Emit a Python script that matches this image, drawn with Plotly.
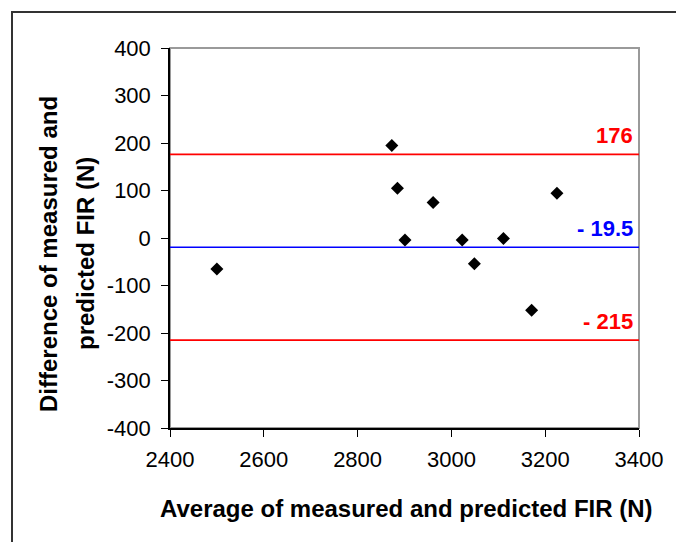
import plotly.graph_objects as go

# Data
avg_fir = [2500, 2873, 2885, 2961, 2901, 3023, 3111, 3049, 3225, 3171]
diff_fir = [-65, 195, 105, 75, -4, -4, -1, -54, 94, -152]

mean_diff = -19.5
upper_loa = 176
lower_loa = -215
ref_labels = ["176", "- 19.5", "- 215"]
ref_values = [upper_loa, mean_diff, lower_loa]
ref_colors = ["#FF0000", "#0000FF", "#FF0000"]

x_range = [2400, 3400]
y_range = [-400, 400]
x_ticks = [2400, 2600, 2800, 3000, 3200, 3400]
y_ticks = [400, 300, 200, 100, 0, -100, -200, -300, -400]
y_tick_text = ["400", "300", "200", "100", "0", "-100", "-200", "-300", "-400"]

x_title = "Average of measured and predicted FIR (N)"
y_title_lines = ["Difference of measured and", "predicted FIR (N)"]

FONT = "Liberation Sans, Arial, sans-serif"

W, H = 676, 542
ml, mr, mt, mb = 170, 37, 48, 114
pw, ph = W - ml - mr, H - mt - mb

def px_x(p):
    return (p - ml) / pw

def px_y(p):
    return (H - mb - p) / ph

fig = go.Figure()

for val, col in zip(ref_values, ref_colors):
    fig.add_trace(go.Scatter(
        x=x_range, y=[val, val], mode="lines",
        line=dict(color=col, width=1.6), hoverinfo="skip", showlegend=False,
    ))

fig.add_trace(go.Scatter(
    x=avg_fir, y=diff_fir, mode="markers",
    marker=dict(symbol="diamond", size=10, color="black"),
    showlegend=False,
))

annotations = []
for lab, val, col in zip(ref_labels, ref_values, ref_colors):
    annotations.append(dict(
        text="<b>%s</b>" % lab, xref="paper", yref="y", x=1, y=val,
        xanchor="right", yanchor="middle", xshift=-4, yshift=19,
        showarrow=False, font=dict(family=FONT, size=22, color=col),
    ))

annotations.append(dict(
    text="<b>%s</b>" % x_title, xref="paper", yref="paper",
    x=px_x(406), y=px_y(508), xanchor="center", yanchor="middle",
    showarrow=False, font=dict(family=FONT, size=24, color="black"),
))
for line, cx in zip(y_title_lines, [48, 85]):
    annotations.append(dict(
        text="<b>%s</b>" % line, xref="paper", yref="paper",
        x=px_x(cx), y=px_y(254), xanchor="center", yanchor="middle",
        textangle=-90, showarrow=False,
        font=dict(family=FONT, size=24, color="black"),
    ))

shapes = [
    dict(type="rect", xref="paper", yref="paper", x0=0, x1=1, y0=0, y1=1,
         line=dict(color="#9a9a9a", width=2), layer="below"),
    dict(type="rect", xref="paper", yref="paper",
         x0=px_x(12), x1=px_x(700), y0=px_y(12), y1=px_y(560),
         line=dict(color="#333333", width=2), layer="below"),
]

fig.update_layout(
    width=W, height=H,
    margin=dict(l=ml, r=mr, t=mt, b=mb),
    paper_bgcolor="white", plot_bgcolor="white",
    font=dict(family=FONT, size=22, color="black"),
    annotations=annotations, shapes=shapes,
    xaxis=dict(
        range=x_range, tickvals=x_ticks, ticks="outside", ticklen=7,
        tickcolor="black", tickwidth=1, showline=True, linecolor="black",
        linewidth=1.5, showgrid=False, zeroline=False,
        tickfont=dict(family=FONT, size=22, color="black"),
        ticklabelstandoff=4,
    ),
    yaxis=dict(
        range=y_range, tickvals=y_ticks, ticktext=y_tick_text,
        ticks="outside", ticklen=7,
        tickcolor="black", tickwidth=1, showline=True, linecolor="black",
        linewidth=1.5, showgrid=False, zeroline=False,
        tickfont=dict(family=FONT, size=22, color="black"),
        ticklabelstandoff=6,
    ),
)

fig.write_html("out.html")
